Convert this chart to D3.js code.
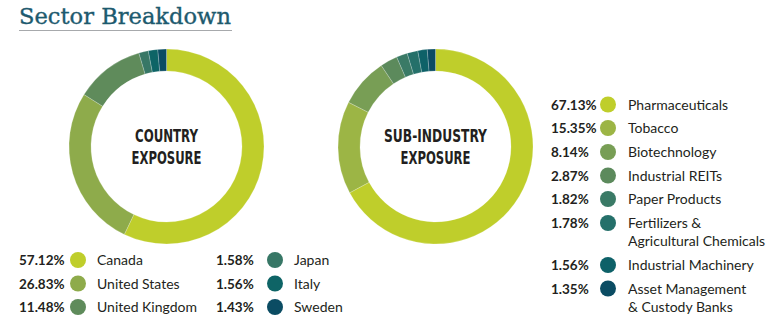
<!DOCTYPE html>
<html>
<head>
<meta charset="utf-8">
<script src="https://cdn.jsdelivr.net/npm/d3@7"></script>
<style>
body { margin:0; background:#fff; }
svg { display:block; }
</style>
</head>
<body>
<svg id="chart" width="782" height="336"></svg>
<script>
const countryNames = ["Canada","United States","United Kingdom","Japan","Italy","Sweden"];
const countryValues = [57.12,26.83,11.48,1.58,1.56,1.43];
const countryColors = ["#bfce2b","#8eab4b","#5f8b5b","#377766","#0e6466","#0b4c63"];

const subNames = ["Pharmaceuticals","Tobacco","Biotechnology","Industrial REITs","Paper Products","Fertilizers &\nAgricultural Chemicals","Industrial Machinery","Asset Management\n& Custody Banks"];
const subValues = [67.13,15.35,8.14,2.87,1.82,1.78,1.56,1.35];
const subColors = ["#bfce2b","#9cb545","#789e55","#5c8a5c","#3a7a66","#25706a","#0e6168","#0b4c63"];

const svg = d3.select("#chart");
const textColor = "#231f20";

// Title
svg.append("text").attr("x",19).attr("y",24)
  .attr("font-family","'DejaVu Serif', serif").attr("font-size",22)
  .attr("textLength",212).attr("lengthAdjust","spacingAndGlyphs")
  .attr("stroke","#1d5a6e").attr("stroke-width",0.35)
  .attr("fill","#1d5a6e").text("Sector Breakdown");
svg.append("line").attr("x1",19).attr("x2",232).attr("y1",30.5).attr("y2",30.5)
  .attr("stroke","#a7a9ac").attr("stroke-width",1);

const pie = d3.pie().sort(null).value(d=>d).startAngle(0).endAngle(2*Math.PI);
const arc = d3.arc().innerRadius(75.5).outerRadius(97.5);

function donut(cx, cy, values, colors, lines, widths) {
  const g = svg.append("g").attr("transform",`translate(${cx},${cy})`);
  g.selectAll("path").data(pie(values)).join("path")
    .attr("d",arc).attr("fill",(d,i)=>colors[i])
    .attr("stroke","#ffffff").attr("stroke-opacity",0.35).attr("stroke-width",0.6);
  lines.forEach((t,i)=>{
    g.append("text").attr("x",0).attr("y",-5 + i*22.5)
      .attr("text-anchor","middle")
      .attr("font-family","'DejaVu Sans Condensed','DejaVu Sans',sans-serif")
      .attr("font-weight","bold").attr("font-size",17)
      .attr("textLength",widths[i]).attr("lengthAdjust","spacingAndGlyphs")
      .attr("fill",textColor).text(t);
  });
}
donut(166.5,146.5,countryValues,countryColors,["COUNTRY","EXPOSURE"],[63,70]);
donut(435.5,146.5,subValues,subColors,["SUB-INDUSTRY","EXPOSURE"],[103,70]);

const legendFont = "Lato, 'Noto Sans', sans-serif";
function legendItem(xPct, xDot, xLab, y, value, color, label) {
  svg.append("text").attr("x",xPct).attr("y",y+5)
    .attr("font-family",legendFont).attr("font-weight","bold").attr("font-size",13.5)
    .attr("fill",textColor).text(value.toFixed(2)+"%");
  svg.append("circle").attr("cx",xDot).attr("cy",y).attr("r",8).attr("fill",color);
  const t = svg.append("text").attr("x",xLab).attr("y",y+5)
    .attr("font-family",legendFont).attr("font-size",14).attr("fill",textColor);
  label.split("\n").forEach((s,i)=>{
    t.append("tspan").attr("x",xLab).attr("dy", i===0?0:18).text(s);
  });
}

// Country legend: two columns of three
const countryRowY = [260,283.5,307];
countryValues.forEach((v,i)=>{
  const col = Math.floor(i/3), row = i%3;
  const x0 = col===0 ? 19 : 216;
  legendItem(x0, x0+59, x0+78, countryRowY[row], v, countryColors[i], countryNames[i]);
});

// Sub-industry legend
const subRowY = [104.5,128,152,175.5,199,223,265,288.5];
subValues.forEach((v,i)=>{
  legendItem(551, 608, 628, subRowY[i], v, subColors[i], subNames[i]);
});
</script>
</body>
</html>
